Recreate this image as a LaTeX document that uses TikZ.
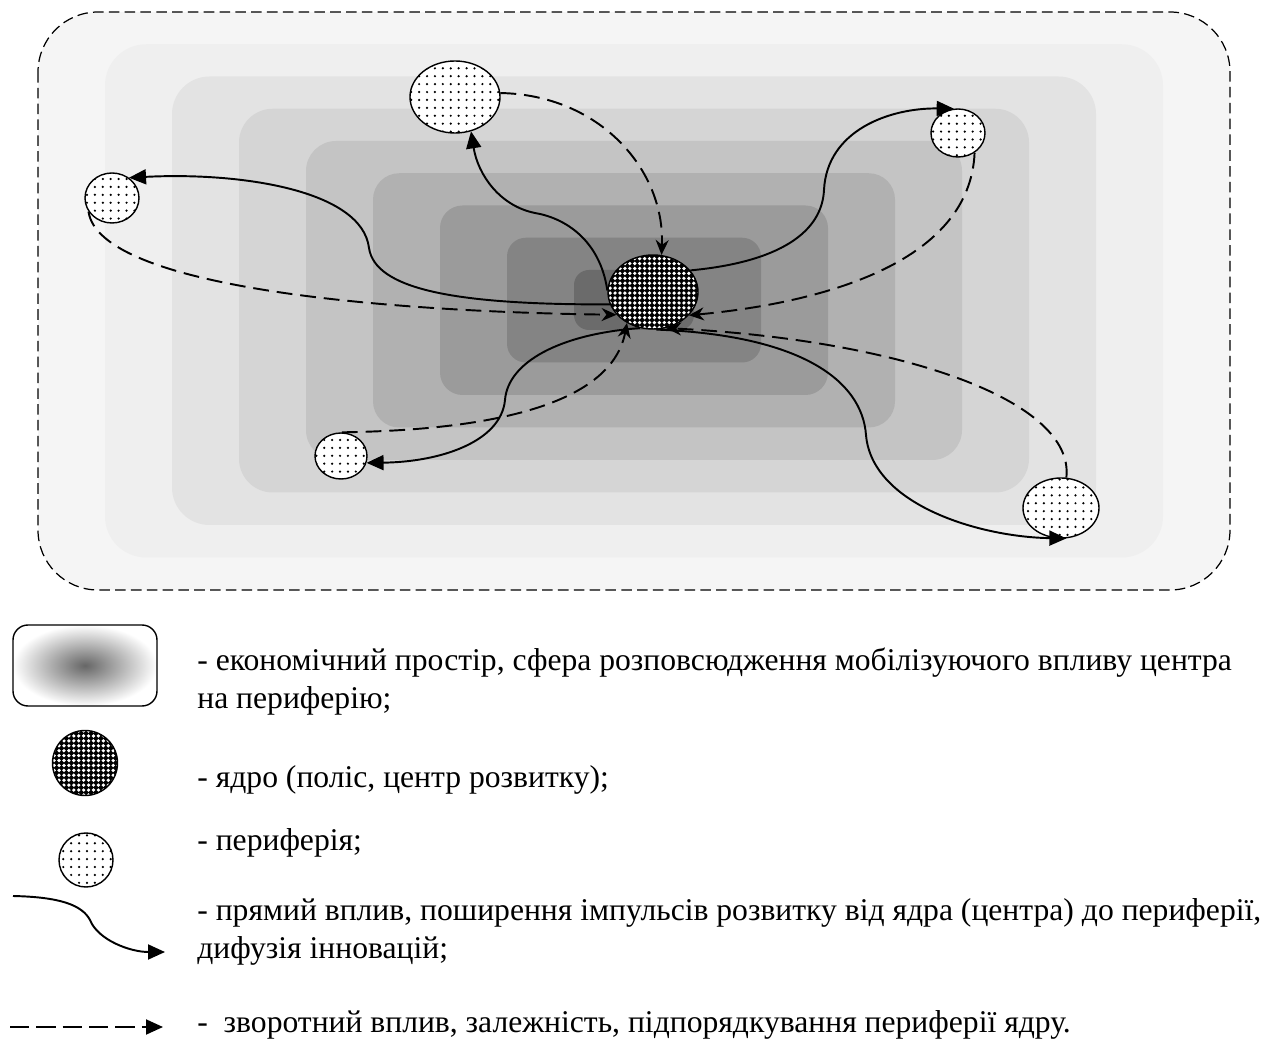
\documentclass[tikz,border=0pt]{standalone}
\usepackage{fontspec}
\setmainfont{Liberation Serif}
\usepackage{tikz}
\usetikzlibrary{arrows.meta,positioning,shapes.geometric,patterns,patterns.meta}

\begin{document}
\begin{tikzpicture}[x=0.2mm, y=-0.2mm,
    core/.style={ellipse, draw, line width=0.8pt, inner sep=0pt, preaction={fill=black}, pattern={Dots[distance=2.8pt,radius=1.05pt]}, pattern color=white},
    periph/.style={ellipse, draw, line width=0.8pt, inner sep=0pt, preaction={fill=white}, pattern={Dots[distance=4.5pt,radius=0.7pt]}},
    keybox/.style={rectangle, draw, line width=0.8pt, rounded corners=3mm, minimum width=28.8mm, minimum height=16.2mm, inner color=black!60, outer color=white},
    direct/.style={line width=1.1pt, -{Triangle[length=3.4mm,width=3mm]}},
    feedback/.style={line width=1.1pt, dash pattern=on 9pt off 4.5pt, -{Stealth[length=3mm,width=2.6mm]}},
    keytext/.style={anchor=base west, align=left, inner sep=0pt, font=\fontsize{18pt}{21.6pt}\selectfont}
]
    \useasboundingbox (0,0) rectangle (1270,1041);

    % Economic space
    \fill[black!4, rounded corners=12mm] (38,12) rectangle (1230,590);
    \foreach \i in {1,...,8} {
        \pgfmathsetmacro{\lx}{38+67*\i}
        \pgfmathsetmacro{\rx}{1230-67*\i}
        \pgfmathsetmacro{\ty}{12+32.25*\i}
        \pgfmathsetmacro{\by}{590-32.5*\i}
        \pgfmathsetmacro{\sh}{4+54*(\i/8)^1.5}
        \pgfmathsetmacro{\rc}{9-0.75*\i}
        \fill[black!\sh, rounded corners=\rc mm] (\lx,\ty) rectangle (\rx,\by);
    }
    \draw[line width=0.7pt, dash pattern=on 6pt off 3pt, rounded corners=12mm] (38,12) rectangle (1230,590);

    % Core and periphery
    \node[core, minimum width=18mm, minimum height=14.8mm] (core) at (653,292) {};
    \node[periph, minimum width=18mm, minimum height=14.4mm] (north) at (455,97) {};
    \node[periph, minimum width=10.8mm, minimum height=9.6mm] (northeast) at (958,133) {};
    \node[periph, minimum width=10.8mm, minimum height=10mm] (west) at (112,198) {};
    \node[periph, minimum width=10.4mm, minimum height=9.2mm] (southwest) at (341,456) {};
    \node[periph, minimum width=15.2mm, minimum height=12mm] (southeast) at (1061,508) {};

    % Direct influence
    \draw[direct] (core.178) .. controls (600,240) and (565,218) .. (535,213)
        .. controls (500,206) and (478,175) .. (north.-65);
    \draw[direct] (core.30) .. controls (780,262) and (822,232) .. (824,190)
        .. controls (827,130) and (890,108) .. (northeast.100);
    \draw[direct] (core.196) .. controls (450,305) and (375,288) .. (369,248)
        .. controls (362,190) and (240,172) .. (west.50);
    \draw[direct] (core.250) .. controls (560,334) and (508,362) .. (505,400)
        .. controls (501,442) and (440,462) .. (southwest.-15);
    \draw[direct] (core.-85) .. controls (800,335) and (862,380) .. (866,435)
        .. controls (872,505) and (980,537) .. (southeast.-80);

    % Feedback
    \draw[feedback] (north.5) .. controls (600,95) and (665,170) .. (core.77);
    \draw[feedback] (northeast.-50) .. controls (970,260) and (830,302) .. (core.-33);
    \draw[feedback] (west.210) .. controls (100,290) and (400,312) .. (core.212);
    \draw[feedback] (southwest.88) .. controls (500,430) and (612,402) .. (core.230);
    \draw[feedback] (southeast.80) .. controls (1075,400) and (900,340) .. (core.-70);

    % Legend
    \node[keybox] (keyspace) at (85,665.5) {};
    \node[core, minimum size=13mm] (keycore) at (85,763) {};
    \node[periph, minimum size=10.8mm] (keyper) at (86,860) {};
    \coordinate (keyd0) at (13,896);
    \coordinate (keyd1) at (165,952);
    \draw[direct] (keyd0) .. controls (60,897) and (82,905) .. (90,920)
        .. controls (98,940) and (130,952) .. (keyd1);
    \coordinate (keyf0) at (10,1027);
    \coordinate (keyf1) at (163,1027);
    \draw[feedback, dash pattern=on 11pt off 4pt, -{Triangle[length=3.4mm,width=3mm]}] (keyf0) -- (keyf1);

    \node[keytext] (txtspace) at (197,708) {- економічний простір, сфера розповсюдження мобілізуючого впливу центра\\на периферію;};
    \node[keytext] (txtcore) at (197,787) {- ядро (поліс, центр розвитку);};
    \node[keytext] (txtper) at (197,850) {- периферія;};
    \node[keytext] (txtdirect) at (197,958) {- прямий вплив, поширення імпульсів розвитку від ядра (центра) до периферії,\\дифузія інновацій;};
    \node[keytext] (txtback) at (197,1032) {-\ \ зворотний вплив, залежність, підпорядкування периферії ядру.};

\end{tikzpicture}
\end{document}
